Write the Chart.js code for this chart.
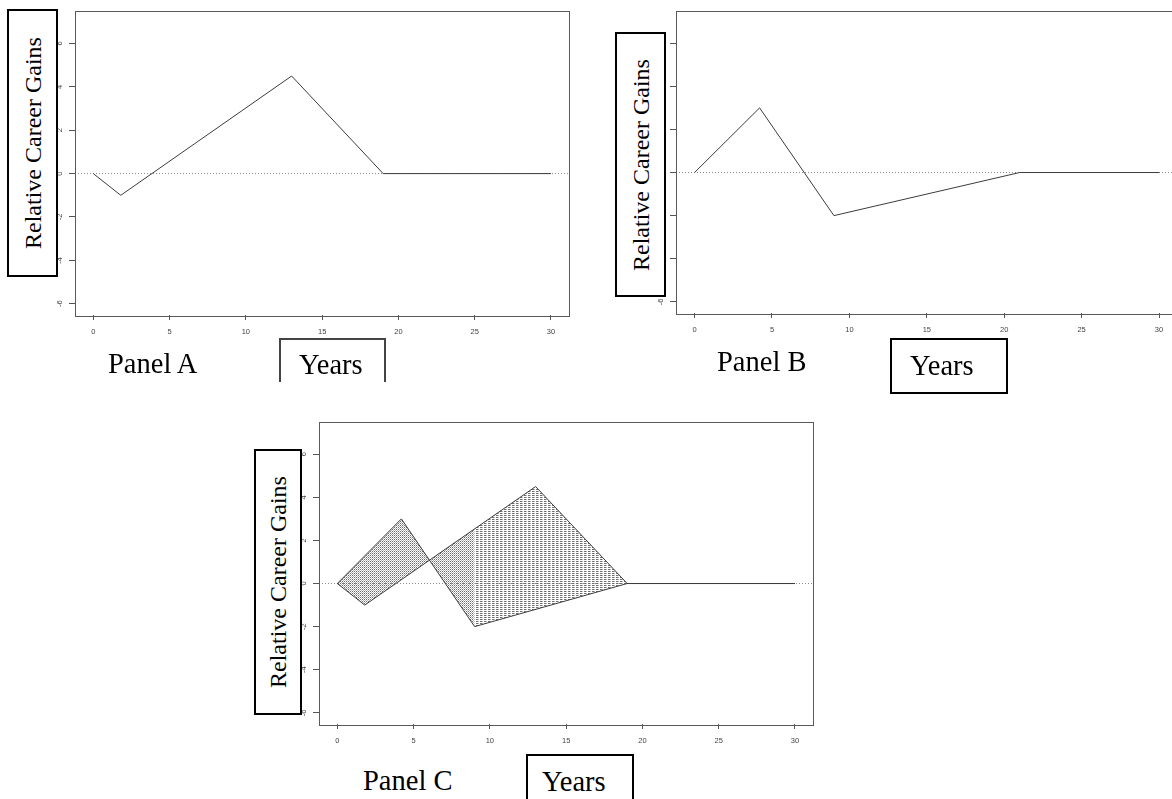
<!DOCTYPE html>
<html>
<head>
<meta charset="utf-8">
<script src="https://cdn.jsdelivr.net/npm/chart.js@4/dist/chart.umd.min.js"></script>
<style>
  html, body { margin: 0; padding: 0; background: #fff; width: 1172px; height: 799px; overflow: hidden; position: relative; }
  canvas { position: absolute; }
  .ybox { position: absolute; box-sizing: border-box; border: 2px solid #000; background: #fff; }
  .ybox span { position: absolute; left: 50%; top: 50%; transform: translate(-50%, -50%) rotate(-90deg);
    white-space: nowrap; font-family: "Liberation Serif", "DejaVu Serif", serif; font-size: 24px; color: #000; line-height: 1; }
  .xbox { position: absolute; box-sizing: border-box; border: 2px solid #000; background: transparent; }
  .txt { position: absolute; white-space: nowrap; font-family: "Liberation Serif", "DejaVu Serif", serif; font-size: 28.5px; line-height: 1; color: #000; }
</style>
</head>
<body>
<canvas id="cA" width="570" height="345" style="left:0px;top:0px;"></canvas>
<canvas id="cB" width="577" height="343" style="left:601px;top:0px;"></canvas>
<canvas id="cC" width="570" height="343" style="left:244px;top:411px;"></canvas>

<div class="ybox" style="left:7px;top:9px;width:51px;height:268px;"><span>Relative Career Gains</span></div>
<div class="ybox" style="left:615px;top:32px;width:51px;height:265px;"><span>Relative Career Gains</span></div>
<div class="ybox" style="left:254px;top:449px;width:48px;height:266px;"><span>Relative Career Gains</span></div>

<div class="xbox" style="left:279px;top:338px;width:107px;height:44px;border-bottom:none;border-color:#444;"></div>
<div class="xbox" style="left:890px;top:338px;width:118px;height:56px;"></div>
<div class="xbox" style="left:526px;top:754px;width:108px;height:60px;"></div>

<div class="txt" style="left:108px;top:350px;">Panel A</div>
<div class="txt" style="left:299px;top:351px;">Years</div>
<div class="txt" style="left:717px;top:348px;">Panel B</div>
<div class="txt" style="left:910px;top:352px;">Years</div>
<div class="txt" style="left:363px;top:767px;">Panel C</div>
<div class="txt" style="left:542px;top:768px;">Years</div>

<script>
// ---- data ----
const xTicks = [0, 5, 10, 15, 20, 25, 30];
const yTicks = [-6, -4, -2, 0, 2, 4, 6];
const yTickLabels = ['-6', '-4', '-2', '0', '2', '4', '6'];

const panelA_x = [0, 1.8, 13, 19, 30];
const panelA_y = [0, -1, 4.5, 0, 0];

const panelB_x = [0, 4.2, 9, 21, 30];
const panelB_y = [0, 3, -2, 0, 0];

const panelC_A_x = [0, 1.8, 13, 19, 30];
const panelC_A_y = [0, -1, 4.5, 0, 0];
const panelC_B_x = [0, 4.2, 9, 19, 30];
const panelC_B_y = [0, 3, -2, 0, 0];
const panelC_switchX = 9; // where the shading style changes

// ---- helpers ----
function pts(xs, ys) { return xs.map((x, i) => ({ x: x, y: ys[i] })); }

function makePattern(rows) {
  const c = document.createElement('canvas');
  c.width = rows[0].length; c.height = rows.length;
  const g = c.getContext('2d');
  rows.forEach((r, yy) => {
    for (let xx = 0; xx < r.length; xx++) {
      if (r[xx] === '#') { g.fillStyle = '#6e6e6e'; g.fillRect(xx, yy, 1, 1); }
      else if (r[xx] === '+') { g.fillStyle = '#b4b4b4'; g.fillRect(xx, yy, 1, 1); }
    }
  });
  return g.createPattern(c, 'repeat');
}
const lightPattern = makePattern(['#.', '.+']);
const densePattern = makePattern(['##+.', '....']);

const boxPlugin = {
  id: 'frameBox',
  afterDraw(chart) {
    const a = chart.chartArea, ctx = chart.ctx;
    ctx.save();
    ctx.strokeStyle = '#5a5a5a';
    ctx.lineWidth = 1;
    ctx.strokeRect(Math.round(a.left) + 0.5, Math.round(a.top) + 0.5,
      Math.round(a.right - a.left), Math.round(a.bottom - a.top));
    ctx.restore();
  }
};

function scales() {
  const tickFont = { family: '"Liberation Sans", Arial, sans-serif', size: 7.5 };
  return {
    x: {
      type: 'linear', min: -1.2, max: 31.2,
      afterBuildTicks: s => { s.ticks = xTicks.map(v => ({ value: v })); },
      afterFit: s => { s.height = 30; },
      ticks: { font: tickFont, color: '#444', padding: 7, maxRotation: 0, minRotation: 0, autoSkip: false,
        callback: (v) => String(xTicks[xTicks.indexOf(v)]) },
      grid: { drawOnChartArea: false, drawTicks: true, tickLength: 5, tickColor: '#555', tickWidth: 1 },
      border: { display: false }
    },
    y: {
      type: 'linear', min: -6.52, max: 7.52,
      afterBuildTicks: s => { s.ticks = yTicks.map(v => ({ value: v })); },
      afterFit: s => { s.width = 75; },
      ticks: { font: tickFont, color: '#444', padding: 6, minRotation: 90, maxRotation: 90, crossAlign: 'center', autoSkip: false,
        callback: (v) => yTickLabels[yTicks.indexOf(v)] },
      grid: { drawOnChartArea: true, drawTicks: true, tickLength: 6, tickColor: '#555', tickWidth: 1,
        lineWidth: 1, borderDash: [1, 2],
        color: c => (c.tick && c.tick.value === 0) ? '#8a8a8a' : 'rgba(0,0,0,0)' },
      border: { display: false, dash: [1, 2] }
    }
  };
}

function lineDs(data, extra) {
  return Object.assign({ data: data, borderColor: '#3c3c3c', borderWidth: 1, pointRadius: 0,
    tension: 0, fill: false }, extra || {});
}

function makeChart(id, datasets, pad) {
  return new Chart(document.getElementById(id), {
    type: 'line',
    data: { datasets: datasets },
    options: {
      responsive: false, animation: false, devicePixelRatio: 1,
      parsing: false, normalized: true,
      layout: { padding: pad },
      plugins: { legend: { display: false }, tooltip: { enabled: false }, filler: { propagate: false } },
      scales: scales()
    },
    plugins: [boxPlugin]
  });
}

makeChart('cA', [lineDs(pts(panelA_x, panelA_y))], { left: 0, top: 9, right: 0.7, bottom: 0 });
makeChart('cB', [lineDs(pts(panelB_x, panelB_y))], { left: 0, top: 9.3, right: 0.4, bottom: 0 });
makeChart('cC', [
  lineDs(pts(panelC_A_x, panelC_A_y)),
  lineDs(pts(panelC_B_x, panelC_B_y), {
    fill: '-1',
    backgroundColor: densePattern,
    segment: { backgroundColor: c => (c.p0.parsed.x < panelC_switchX ? lightPattern : densePattern) }
  })
], { left: 0, top: 9, right: 0.7, bottom: 0 });
</script>
</body>
</html>
